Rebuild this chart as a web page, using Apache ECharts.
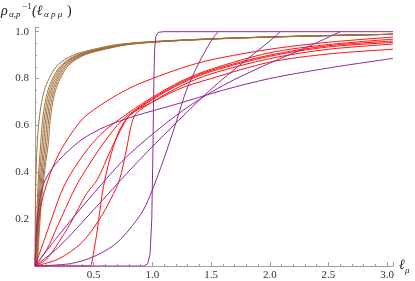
<!DOCTYPE html>
<html><head><meta charset="utf-8">
<script src="https://cdn.jsdelivr.net/npm/echarts@6/dist/echarts.min.js"></script>
<style>html,body{margin:0;padding:0;background:#fff}#c{width:415px;height:281px}</style>
</head><body><div id="c"></div>
<script>
// tick labels
const xTicks = [0.5, 1.0, 1.5, 2.0, 2.5, 3.0];
const yTicks = [0.2, 0.4, 0.6, 0.8, 1.0];

// brown family: shared y levels, per-curve x positions
const brownY  = [0, 0.25, 0.42, 0.53, 0.60, 0.68, 0.75, 0.80, 0.85, 0.88, 0.905, 0.925, 0.945, 0.958, 0.970, 0.978, 0.984, 0.989];
const brownX0 = [0.000, 0.003, 0.010, 0.020, 0.030, 0.050, 0.080, 0.120, 0.180, 0.250, 0.350, 0.500, 0.700, 1.000, 1.500, 2.000, 2.500, 3.05];
const brownX1 = [0.006, 0.018, 0.034, 0.050, 0.060, 0.080, 0.110, 0.150, 0.210, 0.280, 0.380, 0.530, 0.730, 1.030, 1.530, 2.030, 2.530, 3.05];
const brownX2 = [0.009, 0.025, 0.044, 0.063, 0.073, 0.093, 0.123, 0.163, 0.223, 0.293, 0.393, 0.543, 0.743, 1.043, 1.543, 2.043, 2.543, 3.05];
const brownX3 = [0.011, 0.031, 0.055, 0.076, 0.086, 0.106, 0.136, 0.176, 0.236, 0.306, 0.406, 0.556, 0.756, 1.056, 1.556, 2.056, 2.556, 3.05];
const brownX4 = [0.014, 0.038, 0.065, 0.089, 0.099, 0.119, 0.149, 0.189, 0.249, 0.319, 0.419, 0.569, 0.769, 1.069, 1.569, 2.069, 2.569, 3.05];
const brownX5 = [0.016, 0.044, 0.076, 0.102, 0.112, 0.132, 0.162, 0.202, 0.262, 0.332, 0.432, 0.582, 0.782, 1.082, 1.582, 2.082, 2.582, 3.05];
const brownX6 = [0.019, 0.051, 0.086, 0.115, 0.125, 0.145, 0.175, 0.215, 0.275, 0.345, 0.445, 0.595, 0.795, 1.095, 1.595, 2.095, 2.595, 3.05];

// red family
const red1X = [0, 0.01, 0.03, 0.07, 0.15, 0.25, 0.41, 0.60, 0.81, 1.00, 1.25, 1.50, 2.00, 2.50, 3.05];
const red1Y = [0, 0.10, 0.20, 0.30, 0.42, 0.52, 0.63, 0.70, 0.76, 0.80, 0.845, 0.88, 0.925, 0.955, 0.977];
const red2X = [0, 0.05, 0.12, 0.22, 0.30, 0.45, 0.60, 0.80, 1.00, 1.25, 1.50, 2.00, 2.50, 3.05];
const red2Y = [0, 0.07, 0.17, 0.31, 0.39, 0.50, 0.58, 0.655, 0.72, 0.79, 0.84, 0.91, 0.945, 0.968];
const red3X = [0, 0.10, 0.20, 0.32, 0.38, 0.55, 0.70, 0.81, 1.00, 1.25, 1.50, 2.00, 2.50, 3.05];
const red3Y = [0, 0.07, 0.18, 0.31, 0.368, 0.50, 0.60, 0.65, 0.715, 0.785, 0.835, 0.90, 0.94, 0.96];
const red4X = [0, 0.10, 0.20, 0.30, 0.44, 0.53, 0.65, 0.75, 0.81, 1.00, 1.25, 1.50, 2.00, 2.50, 3.05];
const red4Y = [0, 0.03, 0.10, 0.18, 0.31, 0.368, 0.50, 0.60, 0.645, 0.71, 0.78, 0.83, 0.895, 0.935, 0.954];
const red5X = [0, 0.20, 0.40, 0.55, 0.65, 0.72, 0.78, 0.82, 0.86, 1.00, 1.25, 1.50, 2.00, 2.50, 3.05];
const red5Y = [0, 0.03, 0.10, 0.20, 0.29, 0.368, 0.50, 0.60, 0.65, 0.70, 0.77, 0.82, 0.885, 0.925, 0.947];
const red6X = [0, 0.47, 0.48, 0.50, 0.53, 0.57, 0.60, 0.65, 0.72, 0.81, 1.00, 1.25, 1.50, 2.00, 2.50, 3.05];
const red6Y = [0, 0, 0.005, 0.06, 0.15, 0.30, 0.38, 0.48, 0.58, 0.645, 0.70, 0.76, 0.80, 0.87, 0.905, 0.925];

// purple family
const purpStepX = [0, 0.93, 0.96, 0.98, 0.995, 1.005, 1.013, 1.02, 1.03, 1.05, 1.10, 3.05];
const purpStepY = [0, 0, 0.01, 0.05, 0.20, 0.50, 0.80, 0.93, 0.98, 0.997, 1.0, 1.0];
const purp156X = [0, 0.30, 0.50, 0.70, 0.90, 0.98, 1.10, 1.20, 1.29, 1.40, 1.50, 1.56];
const purp156Y = [0, 0.01, 0.04, 0.10, 0.22, 0.30, 0.46, 0.61, 0.75, 0.87, 0.96, 1.0];
const purp209X = [0, 0.20, 0.50, 0.81, 1.10, 1.49, 1.80, 2.00, 2.09];
const purp209Y = [0, 0.08, 0.24, 0.41, 0.56, 0.75, 0.88, 0.96, 1.0];
const purp26X = [0, 0.20, 0.50, 0.81, 1.25, 1.60, 2.00, 2.30, 2.60];
const purp26Y = [0, 0.13, 0.31, 0.48, 0.66, 0.77, 0.866, 0.93, 1.0];
const purpCX = [0, 0.01, 0.03, 0.06, 0.10, 0.20, 0.40, 0.60, 0.85, 1.20, 1.60, 2.00, 2.50, 3.05];
const purpCY = [0, 0.14, 0.25, 0.33, 0.38, 0.45, 0.54, 0.595, 0.64, 0.69, 0.75, 0.80, 0.845, 0.886];

const BROWN = '#a0703c', RED = '#ff1010', PURPLE = '#8c2a9a';
const zip = (xs, ys) => xs.map((x, i) => [x, ys[i]]);
const curves = [];
[brownX0, brownX1, brownX2, brownX3, brownX4, brownX5, brownX6].forEach(xs => curves.push({c: BROWN, d: zip(xs, brownY), s: 0.3}));
[[red1X, red1Y], [red2X, red2Y], [red3X, red3Y], [red4X, red4Y], [red5X, red5Y], [red6X, red6Y]].forEach(p => curves.push({c: RED, d: zip(p[0], p[1]), s: 0.3}));
[[purpStepX, purpStepY, 0], [purp156X, purp156Y, 0.3], [purp209X, purp209Y, 0.3], [purp26X, purp26Y, 0.3], [purpCX, purpCY, 0.3]].forEach(p => curves.push({c: PURPLE, d: zip(p[0], p[1]), s: p[2]}));

const chart = echarts.init(document.getElementById('c'), null, {renderer: 'canvas'});
const AX = '#a0a0a0';
const FONT = '"Liberation Serif", "DejaVu Serif", serif';
const near = (v, arr) => arr.some(t => Math.abs(t - v) < 1e-6);
chart.setOption({
  animation: false,
  grid: {left: 35, right: 22, top: 27, bottom: 15, containLabel: false},
  xAxis: {
    type: 'value', min: 0, max: 3.05, interval: 0.5,
    axisLine: {show: true, onZero: true, lineStyle: {color: AX, width: 1}},
    axisTick: {show: true, inside: true, length: 4, lineStyle: {color: AX}},
    minorTick: {show: true, splitNumber: 5, length: 2, lineStyle: {color: AX}},
    splitLine: {show: false},
    axisLabel: {margin: 4, color: '#333', fontFamily: FONT, fontSize: 11,
      formatter: v => near(v, xTicks) ? v.toFixed(1) : ''}
  },
  yAxis: {
    type: 'value', min: 0, max: 1.02, interval: 0.2,
    axisLine: {show: true, onZero: true, lineStyle: {color: AX, width: 1}},
    axisTick: {show: true, inside: true, length: 4, lineStyle: {color: AX}},
    minorTick: {show: true, splitNumber: 4, length: 2, lineStyle: {color: AX}},
    splitLine: {show: false},
    axisLabel: {margin: 6, color: '#333', fontFamily: FONT, fontSize: 11,
      formatter: v => near(v, yTicks) ? v.toFixed(1) : ''}
  },
  series: curves.map(s => ({
    type: 'line', data: s.d, showSymbol: false, smooth: s.s,
    lineStyle: {color: s.c, width: 1}, silent: true, clip: true
  })),
  graphic: [
    {type: 'text', left: 1, top: 4, style: {text: 'ρ', font: 'italic 14px ' + FONT, fill: '#222'}},
    {type: 'text', left: 9, top: 10, style: {text: 'α,p', font: 'italic 9px ' + FONT, fill: '#222'}},
    {type: 'text', left: 22, top: 2, style: {text: '−1', font: '9px ' + FONT, fill: '#222'}},
    {type: 'text', left: 32, top: 4, style: {text: '(ℓ', font: 'italic 14px ' + FONT, fill: '#222'}},
    {type: 'text', left: 44, top: 10, style: {text: 'α p μ', font: 'italic 9px ' + FONT, fill: '#222'}},
    {type: 'text', left: 67, top: 4, style: {text: ')', font: '14px ' + FONT, fill: '#222'}},
    {type: 'text', left: 399, top: 258, style: {text: 'ℓ', font: 'italic 14px ' + FONT, fill: '#222'}},
    {type: 'text', left: 405, top: 266, style: {text: 'μ', font: 'italic 9px ' + FONT, fill: '#222'}}
  ]
});
</script></body></html>
